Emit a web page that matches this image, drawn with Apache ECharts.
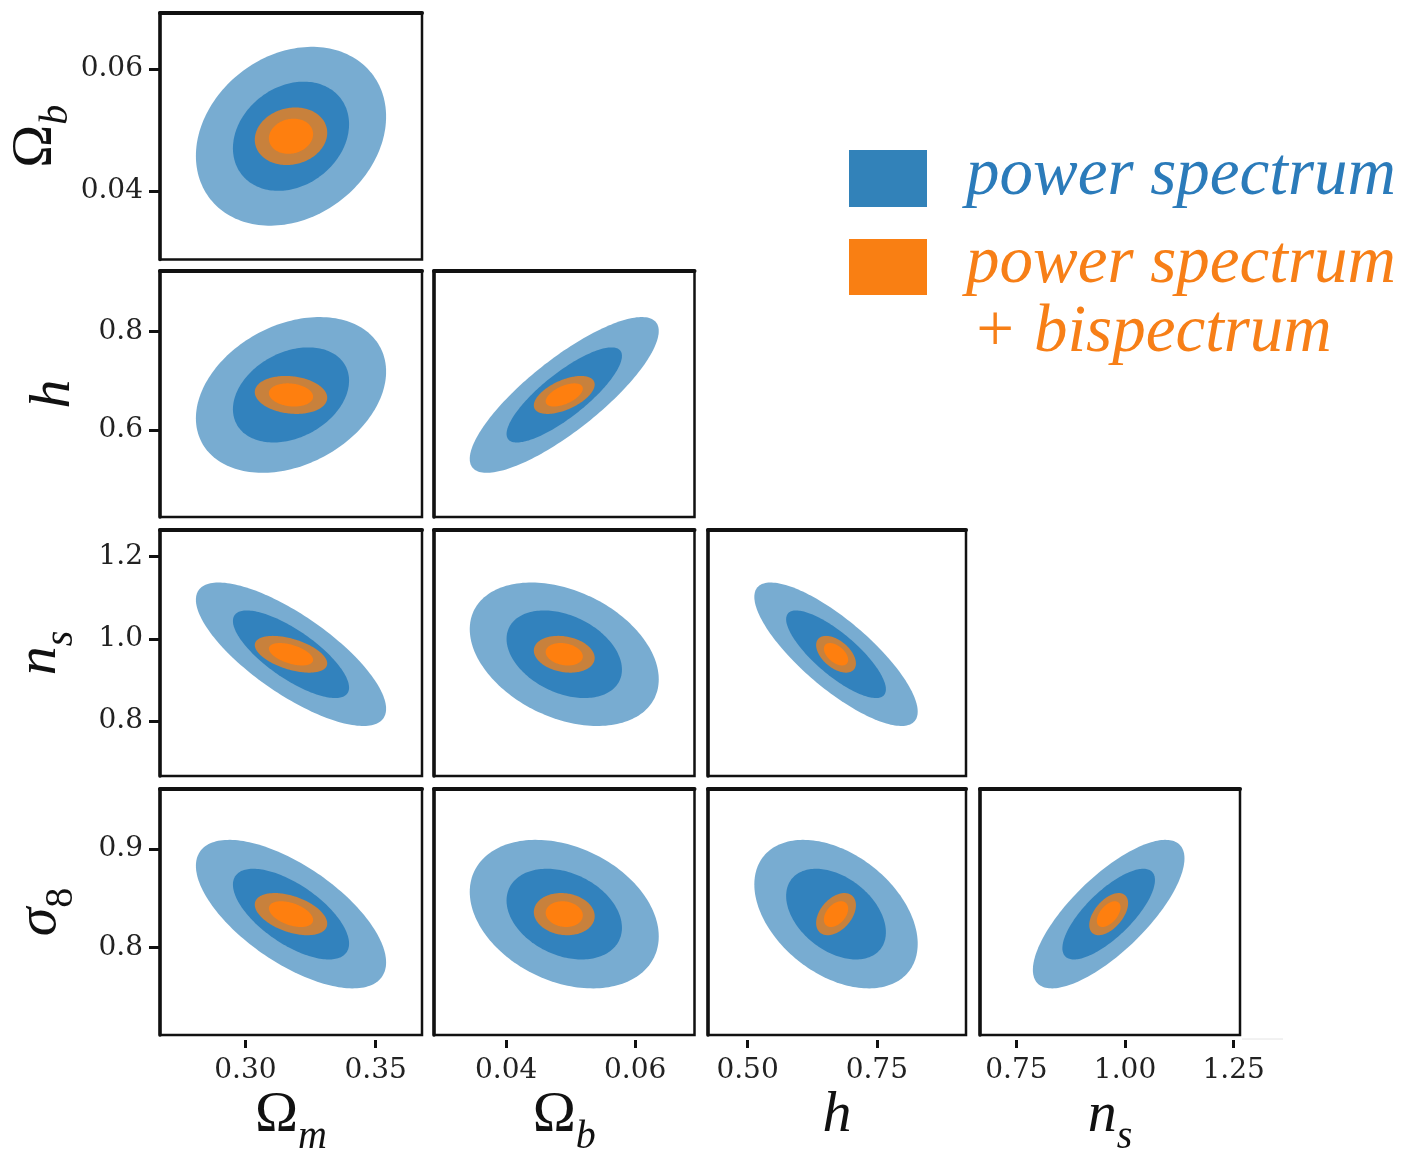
<!DOCTYPE html>
<html>
<head>
<meta charset="utf-8">
<script src="https://cdn.jsdelivr.net/npm/echarts@6/dist/echarts.min.js"></script>
<style>
  html, body { margin: 0; padding: 0; background: #ffffff; }
  #chart { width: 1408px; height: 1150px; }
</style>
</head>
<body>
<div id="chart"></div>
<script>
// Cosmological parameters, in corner-plot order
const paramKeys = ['Om', 'Ob', 'h', 'ns', 's8'];
// Fiducial values (ellipse centres)
const fiducial = [0.3175, 0.049, 0.6711, 0.9624, 0.834];
// Plotted range of each parameter
const rangeMin = [0.2672, 0.0288, 0.4235, 0.6664, 0.7115];
const rangeMax = [0.3678, 0.0692, 0.9225, 1.2645, 0.9608];

// Marginalised 1-sigma errors
const sigmaPS  = [0.0147, 0.0059, 0.0636, 0.0702, 0.0303];
const sigmaPSB = [0.0056, 0.0019, 0.0155, 0.0180, 0.0086];

// Correlation coefficients for each parameter pair "i-j"
const corrPS  = { '0-1': 0.22, '0-2': 0.30, '1-2': 0.82, '0-3': -0.76, '1-3': -0.35,
                  '2-3': -0.80, '0-4': -0.65, '1-4': -0.30, '2-4': -0.40, '3-4': 0.75 };
const corrPSB = { '0-1': 0.12, '0-2': -0.15, '1-2': 0.55, '0-3': -0.50, '1-3': -0.20,
                  '2-3': -0.50, '0-4': -0.45, '1-4': -0.10, '2-4': 0.42, '3-4': 0.52 };

// Delta chi^2 for the 68% and 95% two-parameter contours
const contourLevels = [6.17, 2.30];

// Tick labels
const xTickLabels = [['0.30', '0.35'], ['0.04', '0.06'], ['0.50', '0.75'], ['0.75', '1.00', '1.25']];
const yTickLabels = [['0.06', '0.04'], ['0.8', '0.6'], ['1.2', '1.0', '0.8'], ['0.9', '0.8']];

// Legend entries
const legendLabels = ['power spectrum', 'power spectrum', '+ bispectrum'];

// ---- styling ----
const COL_LEFT  = [160, 434, 708, 980];
const COL_WIDTH = [262, 260.5, 258, 260];
const ROW_TOP   = [13, 271, 530, 789];
const ROW_HEIGHT = [246.5, 246, 246, 246];
const fillPS  = ['#78acd1', '#3282bd'];   // outer, inner
const fillPSB = ['#c8813c', '#fe7f0f'];
const TICK_FONT = '"DejaVu Serif", "Liberation Serif", serif';
const MATH_FONT = '"Liberation Serif", "DejaVu Serif", serif';

const nameRich = {
  up:  { fontFamily: MATH_FONT, fontSize: 58, color: '#111', lineHeight: 56, verticalAlign: 'top' },
  it:  { fontFamily: MATH_FONT, fontStyle: 'italic', fontSize: 58, color: '#111', lineHeight: 56, verticalAlign: 'top' },
  sub: { fontFamily: MATH_FONT, fontStyle: 'italic', fontSize: 40, color: '#111', lineHeight: 70, verticalAlign: 'bottom' },
  subUp: { fontFamily: MATH_FONT, fontSize: 40, color: '#111', lineHeight: 70, verticalAlign: 'bottom' }
};
const axisNames = ['{up|Ω}{sub|m}', '{up|Ω}{sub|b}', '{it|h}', '{it|n}{sub|s}', '{it|σ}{subUp|8}'];

// Build the list of contours drawn in every panel
const panels = [];
for (let r = 0; r < 4; r++) {
  for (let c = 0; c <= r; c++) panels.push({ row: r, col: c, px: c, py: r + 1 });
}

function contourList(panel) {
  const list = [];
  const key = panel.px + '-' + panel.py;
  [[sigmaPS, corrPS, fillPS], [sigmaPSB, corrPSB, fillPSB]].forEach(([sig, corr, fills]) => {
    contourLevels.forEach((lvl, li) => {
      list.push({ sx: sig[panel.px], sy: sig[panel.py], rho: corr[key], level: lvl, color: fills[li] });
    });
  });
  return list;
}

const grids = [], xAxes = [], yAxes = [], series = [];

panels.forEach((p, g) => {
  grids.push({
    left: COL_LEFT[p.col], top: ROW_TOP[p.row], width: COL_WIDTH[p.col], height: ROW_HEIGHT[p.row],
    outerBoundsMode: 'none', containLabel: false,
    show: true, borderColor: '#111', borderWidth: 2.5, backgroundColor: '#fff'
  });

  const bottomRow = p.row === 3;
  const xTicks = xTickLabels[p.px].map(Number);
  xAxes.push({
    gridIndex: g, type: 'value', min: rangeMin[p.px], max: rangeMax[p.px],
    position: 'bottom', offset: 5,
    axisLine: { show: false }, splitLine: { show: false },
    axisTick: { show: bottomRow, customValues: xTicks, length: 8, lineStyle: { width: 3, color: '#111' } },
    axisLabel: {
      show: bottomRow, customValues: xTicks, margin: 17,
      fontFamily: TICK_FONT, fontSize: 28, color: '#222',
      formatter: v => xTickLabels[p.px][xTicks.findIndex(t => Math.abs(t - v) < 1e-9)]
    },
    name: bottomRow ? axisNames[p.px] : '', nameLocation: 'middle', nameGap: 47,
    nameTextStyle: { rich: nameRich }
  });
  // heavier top edge of the frame
  xAxes.push({
    gridIndex: g, type: 'value', min: rangeMin[p.px], max: rangeMax[p.px], position: 'top',
    axisLine: { show: true, onZero: false, lineStyle: { color: '#111', width: 4 } },
    axisTick: { show: false }, axisLabel: { show: false }, splitLine: { show: false }
  });

  const leftCol = p.col === 0;
  const yTicks = yTickLabels[p.row].map(Number);
  yAxes.push({
    gridIndex: g, type: 'value', min: rangeMin[p.py], max: rangeMax[p.py], position: 'left',
    axisLine: { show: true, onZero: false, lineStyle: { color: '#111', width: 3.5 } },
    splitLine: { show: false },
    axisTick: { show: leftCol, customValues: yTicks, length: 11, lineStyle: { width: 3, color: '#111' } },
    axisLabel: {
      show: leftCol, customValues: yTicks, margin: 17,
      fontFamily: TICK_FONT, fontSize: 28, color: '#222',
      formatter: v => yTickLabels[p.row][yTicks.findIndex(t => Math.abs(t - v) < 1e-9)]
    },
    name: leftCol ? axisNames[p.py] : '', nameLocation: 'middle', nameGap: 79, nameRotate: 90,
    nameTextStyle: { rich: nameRich }
  });

  const contours = contourList(p);
  series.push({
    type: 'custom', coordinateSystem: 'cartesian2d',
    xAxisIndex: 2 * g, yAxisIndex: g, clip: true, silent: true,
    data: contours.map((c, k) => [fiducial[p.px], fiducial[p.py], k]),
    renderItem: (params, api) => {
      const c = contours[api.value(2)];
      const cx = api.value(0), cy = api.value(1);
      const s = Math.sqrt(c.level);
      const q = Math.sqrt(1 - c.rho * c.rho);
      const pts = [];
      for (let t = 0; t < 180; t++) {
        const a = t / 180 * 2 * Math.PI;
        const x = cx + s * c.sx * Math.cos(a);
        const y = cy + s * c.sy * (c.rho * Math.cos(a) + q * Math.sin(a));
        pts.push(api.coord([x, y]));
      }
      return { type: 'polygon', z2: api.value(2), shape: { points: pts }, style: { fill: c.color } };
    }
  });
});

const legendFont = '"Liberation Serif", "DejaVu Serif", serif';
const graphic = [
  { type: 'rect', shape: { x: 849, y: 150, width: 78, height: 57 }, style: { fill: '#3282b9' } },
  { type: 'rect', shape: { x: 849, y: 239, width: 78, height: 56 }, style: { fill: '#f97f13' } },
  { type: 'text', x: 966, y: 176, style: { text: legendLabels[0], fill: '#2b7bba',
      font: 'italic 67px ' + legendFont, verticalAlign: 'middle' } },
  { type: 'text', x: 966, y: 264, style: { text: legendLabels[1], fill: '#f77f17',
      font: 'italic 67px ' + legendFont, verticalAlign: 'middle' } },
  { type: 'text', x: 972, y: 333, style: { text: legendLabels[2], fill: '#f77f17',
      font: 'italic 67px ' + legendFont, verticalAlign: 'middle' } },
  { type: 'line', shape: { x1: 1242, y1: 1039, x2: 1283, y2: 1039 }, style: { stroke: '#e4e4e4', lineWidth: 1 } }
];

const chart = echarts.init(document.getElementById('chart'), null, { renderer: 'canvas' });
chart.setOption({
  animation: false,
  backgroundColor: '#ffffff',
  grid: grids, xAxis: xAxes, yAxis: yAxes, series: series, graphic: graphic
});
</script>
</body>
</html>
